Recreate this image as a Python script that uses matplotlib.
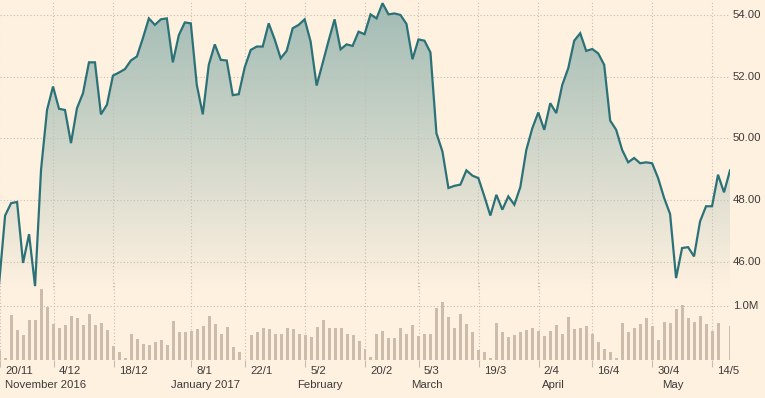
import matplotlib
matplotlib.use("Agg")
import matplotlib.pyplot as plt
import matplotlib.transforms as mtransforms
import numpy as np

# daily close, one value per trading day (21 Nov 2016 - 18 May 2017)
prices = [45.30, 47.51, 47.91, 47.95, 45.98, 46.91, 45.23, 48.99, 50.92, 51.68,
          50.96, 50.92, 49.85, 50.98, 51.46, 52.46, 52.46, 50.78, 51.09, 52.03,
          52.13, 52.24, 52.52, 52.65, 53.24, 53.88, 53.67, 53.85, 53.88, 52.46,
          53.34, 53.75, 53.72, 51.73, 50.78, 52.38, 53.04, 52.54, 52.52, 51.40,
          51.43, 52.30, 52.86, 52.97, 52.97, 53.72, 53.20, 52.59, 52.83, 53.56,
          53.67, 53.85, 53.13, 51.71, 52.43, 53.16, 53.85, 52.88, 53.04, 52.99,
          53.45, 53.37, 54.01, 53.88, 54.37, 54.01, 54.04, 53.99, 53.70, 52.56,
          53.20, 53.16, 52.78, 50.17, 49.58, 48.40, 48.47, 48.51, 48.97, 48.80,
          48.72, 48.13, 47.51, 48.18, 47.70, 48.13, 47.86, 48.43, 49.63, 50.33,
          50.84, 50.28, 51.14, 50.82, 51.73, 52.27, 53.16, 53.40, 52.83, 52.89,
          52.75, 52.38, 50.58, 50.28, 49.63, 49.23, 49.37, 49.20, 49.23, 49.20,
          48.72, 48.08, 47.56, 45.49, 46.46, 46.49, 46.19, 47.32, 47.81, 47.81,
          48.83, 48.26, 48.97]

# volume in millions
volumes = [0.17, 0.04, 0.83, 0.56, 0.46, 0.74, 0.74, 1.31, 0.99, 0.67,
           0.60, 0.65, 0.81, 0.77, 0.65, 0.85, 0.65, 0.69, 0.56, 0.26,
           0.14, 0.03, 0.48, 0.39, 0.30, 0.28, 0.34, 0.37, 0.28, 0.72,
           0.52, 0.52, 0.54, 0.57, 0.63, 0.81, 0.67, 0.48, 0.61, 0.25,
           0.14, 0.00, 0.46, 0.52, 0.59, 0.57, 0.49, 0.48, 0.59, 0.57,
           0.49, 0.46, 0.42, 0.62, 0.75, 0.60, 0.59, 0.59, 0.49, 0.46,
           0.35, 0.20, 0.05, 0.49, 0.54, 0.40, 0.40, 0.59, 0.49, 0.65,
           0.44, 0.49, 0.49, 0.96, 1.07, 0.79, 0.60, 0.85, 0.67, 0.52,
           0.19, 0.15, 0.03, 0.69, 0.51, 0.42, 0.46, 0.51, 0.56, 0.59,
           0.54, 0.44, 0.54, 0.65, 0.48, 0.79, 0.57, 0.59, 0.63, 0.49,
           0.33, 0.20, 0.15, 0.03, 0.69, 0.52, 0.59, 0.67, 0.77, 0.63,
           0.37, 0.70, 0.69, 0.94, 1.02, 0.77, 0.70, 0.81, 0.67, 0.54,
           0.69, 0.00, 0.63]

# gridline dates (index of trading day) and their labels
tick_days = [0, 9, 19, 32, 41, 51, 61, 70, 80, 90, 99, 109, 119]
tick_labels = ["20/11", "4/12", "18/12", "8/1", "22/1", "5/2", "20/2",
               "5/3", "19/3", "2/4", "16/4", "30/4", "14/5"]
month_labels = ["January 2017", "February", "March", "April", "May"]
month_pos = [34.3, 53.5, 71.3, 92.5, 112.4]
price_ticks = [46, 48, 50, 52, 54]

bg = "#fff1e0"
line_c = "#2b7278"
bar_c = "#cebcaa"
grid_c = "#c6bdb1"
text_c = "#3d3a38"
plt.rcParams["font.family"] = ["Liberation Sans", "DejaVu Sans"]
plt.rcParams["font.size"] = 8.2

W, H = 765, 398
fig = plt.figure(figsize=(W / 100, H / 100), dpi=100)
fig.patch.set_facecolor(bg)


def px_axes(x0, y0, x1, y1):
    return fig.add_axes([x0 / W, 1 - y1 / H, (x1 - x0) / W, (y1 - y0) / H])


ax = px_axes(0, 0, 730, 290)
axv = px_axes(0, 280, 730, 360)
for a in (ax, axv):
    a.set_facecolor("none")
    for s in a.spines.values():
        s.set_visible(False)

days = np.arange(len(prices))
xlim = (0.15, 122.0)
ylim = (45.105, 54.474)

# price line with gradient fill
ax.set_xlim(*xlim)
ax.set_ylim(*ylim)
fill = ax.fill_between(days, prices, ylim[0], color="none", lw=0)
top = np.array([160, 187, 180]) / 255
bot = np.array([255, 241, 224]) / 255
t = np.linspace(0, 1, 256)[:, None]
grad = (top * (1 - t) + bot * t)[:, None, :]
img = ax.imshow(grad, extent=(xlim[0], xlim[1], ylim[0], ylim[1]),
                aspect="auto", origin="upper", zorder=1)
img.set_clip_path(fill.get_paths()[0], transform=ax.transData)
ax.plot(days, prices, color=line_c, lw=1.6, zorder=4, solid_joinstyle="miter")

for v in price_ticks:
    ax.axhline(v, color=grid_c, lw=0.8, ls=(0, (1, 2)), zorder=2)
for d in tick_days:
    ax.axvline(d, color=grid_c, lw=0.8, ls=(0, (1, 2)), zorder=2)
    axv.axvline(d, color=grid_c, lw=0.8, ls=(0, (1, 2)), zorder=0)
ax.set_xticks([])
ax.set_yticks([])

# volume bars
axv.set_xlim(*xlim)
axv.set_ylim(0, 80 / 54)
axv.bar(days, volumes, width=0.5, color=bar_c, zorder=1)
axv.axhline(1.0, color=grid_c, lw=0.8, ls=(0, (1, 2)), zorder=0)
axv.set_yticks([])
axv.set_xticks(tick_days)
axv.tick_params(axis="x", length=5, width=0.8, color=grid_c, labelbottom=False)

# right-hand labels
right = mtransforms.blended_transform_factory(ax.transAxes, ax.transData)
off = mtransforms.ScaledTranslation(3 / 100, 0, fig.dpi_scale_trans)
for v in price_ticks:
    ax.text(1.0, v, f"{v:.2f}", transform=right + off, ha="left", va="center",
            color=text_c)
rightv = mtransforms.blended_transform_factory(axv.transAxes, axv.transData)
axv.text(1.0, 1.0, "1.0M", transform=rightv + off, ha="left", va="center",
         color=text_c)

# date labels
below = mtransforms.blended_transform_factory(axv.transData, fig.transFigure)
off_t = mtransforms.ScaledTranslation(5 / 100, 0, fig.dpi_scale_trans)
for d, lab in zip(tick_days, tick_labels):
    axv.text(d, 1 - 371.5 / H, lab, transform=below + off_t, ha="left",
             va="center", color=text_c)
fig.text(5 / W, 1 - 385.5 / H, "November 2016", ha="left", va="center",
         color=text_c)
for p, lab in zip(month_pos, month_labels):
    axv.text(p, 1 - 385.5 / H, lab, transform=below, ha="center",
             va="center", color=text_c)

fig.savefig("out.png", dpi=100, facecolor=bg)
